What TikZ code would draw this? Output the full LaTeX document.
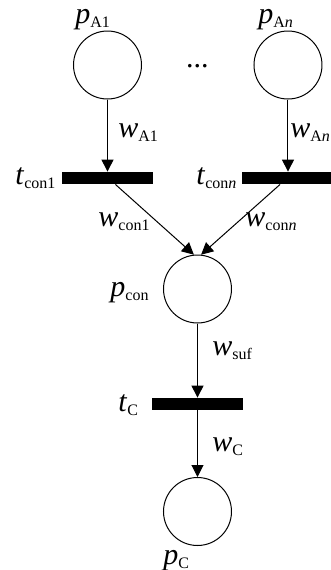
\documentclass[tikz,border=0pt]{standalone}
\usepackage{fontspec}
\setmainfont{Liberation Serif}
\usepackage{tikz}
\usetikzlibrary{arrows.meta, positioning}
\newcommand{\sym}[2]{\textit{#1}\raisebox{-2pt}{\fontsize{8}{8}\selectfont #2}}

\begin{document}
\begin{tikzpicture}[
    x=0.5pt, y=-0.5pt,
    every node/.style={font=\fontsize{15}{17}\selectfont},
    place/.style={circle, draw, line width=0.5pt, minimum size=34pt,
                  inner sep=0pt},
    trans/.style={rectangle, fill=black, minimum width=45.5pt,
                  minimum height=6pt, inner sep=0pt},
    arrow/.style={-{Triangle[length=6pt, width=6pt]}, line width=0.5pt},
    lbl/.style={anchor=base west, inner sep=0pt}
]
\useasboundingbox (0,0) rectangle (331,570);

% Input places and their transitions (top)
\node[place] (pA1) at (107.5,65) {};
\node[place] (pAn) at (288,65) {};
\node[anchor=base] (dots) at (197.5,67) {...};

\node[trans] (tcon1) at (107.5,178) {};
\node[trans] (tconn) at (288,178) {};

\draw[arrow] (pA1) -- (tcon1.north);
\draw[arrow] (pAn) -- (tconn.north);

\node[lbl] (lpA1)   at (75,23)   {\sym{p}{A1}};
\node[lbl] (lpAn)   at (258,23)  {\sym{p}{A\textit{n}}};
\node[lbl] (lwA1)   at (118,137) {\sym{w}{A1}};
\node[lbl] (lwAn)   at (290,137) {\sym{w}{A\textit{n}}};
\node[lbl] (ltcon1) at (15,184)  {\sym{t}{con1}};
\node[lbl] (ltconn) at (196,184) {\sym{t}{con\textit{n}}};

% Merge into p_con
\node[place] (pcon) at (197.5,289) {};

\draw[arrow] (tcon1.-39)  -- (pcon.96);
\draw[arrow] (tconn.-141) -- (pcon.84);

\node[lbl] (lwcon1) at (98,226)  {\sym{w}{con1}};
\node[lbl] (lwconn) at (245,226) {\sym{w}{con\textit{n}}};
\node[lbl] (lpcon)  at (110,296) {\sym{p}{con}};

% Output chain (bottom)
\node[trans] (tC) at (197.5,404) {};
\node[place] (pC) at (197.5,511.5) {};

\draw[arrow] (pcon) -- (tC.north);
\draw[arrow] (tC)   -- (pC.north);

\node[lbl] (lwsuf) at (212,355) {\sym{w}{suf}};
\node[lbl] (ltC)   at (118,411) {\sym{t}{C}};
\node[lbl] (lwC)   at (212,451) {\sym{w}{C}};
\node[lbl] (lpC)   at (163,564) {\sym{p}{C}};

\end{tikzpicture}
\end{document}
